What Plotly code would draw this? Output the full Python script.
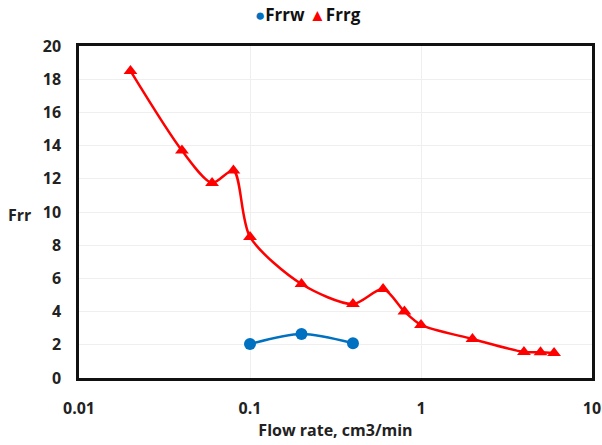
import plotly.graph_objects as go

frrg_x = [0.02, 0.04, 0.06, 0.08, 0.1, 0.2, 0.4, 0.6, 0.8, 1, 2, 4, 5, 6]
frrg_y = [18.5, 13.7, 11.75, 12.5, 8.5, 5.66, 4.46, 5.36, 4.0, 3.2, 2.35, 1.57, 1.55, 1.5]
frrw_x = [0.1, 0.2, 0.4]
frrw_y = [2.05, 2.65, 2.1]

x_ticks = [0.01, 0.1, 1, 10]
x_tick_text = ["0.01", "0.1", "1", "10"]

FONT = "Open Sans"
BLUE = "#0070C0"
RED = "#FF0000"

fig = go.Figure()
fig.add_trace(go.Scatter(
    x=frrw_x, y=frrw_y, name="Frrw", mode="lines+markers", showlegend=False,
    line=dict(color=BLUE, width=2.5, shape="spline", smoothing=0.8),
    marker=dict(symbol="circle", size=12, color=BLUE),
))
fig.add_trace(go.Scatter(
    x=frrg_x, y=frrg_y, name="Frrg", mode="lines+markers", showlegend=False,
    line=dict(color=RED, width=2.5, shape="spline", smoothing=0.8),
    marker=dict(symbol="triangle-up", size=12, color=RED),
))

fig.update_layout(
    width=602, height=445,
    margin=dict(l=79, r=10, t=46, b=67),
    paper_bgcolor="white", plot_bgcolor="white",
    font=dict(family=FONT, size=16, color="#222222"),
    showlegend=False,
    xaxis=dict(type="log", range=[-2, 1], tickvals=x_ticks, ticktext=x_tick_text,
               automargin=False,
               showgrid=True, gridcolor="#EFEFEF", gridwidth=1,
               showline=True, linecolor="#111111", linewidth=2.5, mirror=True,
               ticks="", ticklabelstandoff=14,
               tickfont=dict(family=FONT, size=16, color="#222222", weight="bold"),
               title=dict(text="Flow rate, cm3/min", standoff=4,
                          font=dict(family=FONT, size=16, color="#222222", weight="bold")),
               zeroline=False),
    yaxis=dict(range=[0, 20], dtick=2, showgrid=True, gridcolor="#EFEFEF", gridwidth=1,
               automargin=False,
               showline=True, linecolor="#111111", linewidth=2.5, mirror=True,
               ticks="", ticklabelstandoff=12,
               tickfont=dict(family=FONT, size=16, color="#222222", weight="bold"),
               zeroline=False),
)
# legend (markers only, compact, as in the reference)
fig.add_annotation(
    text=(f"<span style='color:{BLUE}'>●</span>Frrw "
          f"<span style='color:{RED}'>▲</span>Frrg"),
    xref="paper", yref="paper", x=(308 - 79) / 513, y=1 + (46 - 15) / 332,
    xanchor="center", yanchor="middle", showarrow=False,
    font=dict(family=FONT, size=17, color="#111111", weight="bold"))
fig.add_annotation(text="Frr", xref="paper", yref="paper", x=-0.09, y=0.49,
                   xanchor="right", yanchor="middle", showarrow=False,
                   font=dict(family=FONT, size=16, color="#222222", weight="bold"))

fig.write_html("out.html")
